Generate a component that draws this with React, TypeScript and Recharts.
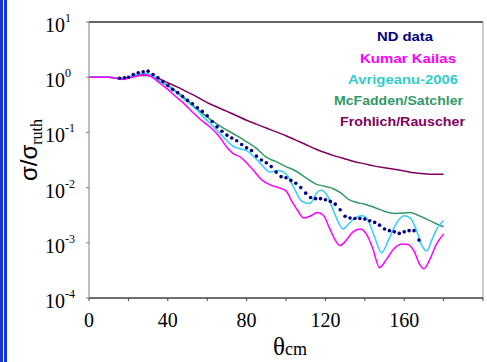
import React from "react";
import { ComposedChart, Line, Scatter, XAxis, YAxis, ReferenceLine } from "recharts";

const SERIF = '"Liberation Serif", "Times New Roman", serif';
const SANS = '"Liberation Sans", Arial, sans-serif';

const xTicks = [0, 20, 40, 60, 80, 100, 120, 140, 160, 180, 200];
const xLabelTicks = [0, 40, 80, 120, 160];
const yTicks = [0.0001, 0.001, 0.01, 0.1, 1, 10];
const yExponents = ["-4", "-3", "-2", "-1", "0", "1"];

const legendLabels = ["ND data", "Kumar Kailas", "Avrigeanu-2006", "McFadden/Satchler", "Frohlich/Rauscher"];
const legendColors = ["#000080", "#ff00ff", "#33cccc", "#339966", "#800060"];

// Frohlich/Rauscher
const frohlichAngles = [0, 10, 17, 25, 30, 35, 40, 45, 50, 55, 60, 65, 70, 75, 80, 85, 90, 95, 100, 105, 110, 115, 120, 125, 130, 135, 140, 145, 150, 155, 160, 165, 170, 175, 180];
const frohlichValues = [1, 1, 0.955, 1.072, 1.072, 0.955, 0.794, 0.661, 0.537, 0.437, 0.347, 0.288, 0.24, 0.2, 0.166, 0.141, 0.12, 0.102, 0.0871, 0.0724, 0.0603, 0.0501, 0.0427, 0.0372, 0.0331, 0.0295, 0.0269, 0.0245, 0.0229, 0.0214, 0.02, 0.0186, 0.0178, 0.0174, 0.0174];

// McFadden/Satchler
const mcfaddenAngles = [0, 10, 17, 22, 28, 32, 36, 40, 45, 51, 55, 60, 65, 70, 75, 80, 85, 90, 95, 100, 105, 110, 115, 120, 124, 128, 132, 136, 140, 145, 150, 155, 160, 163, 167, 172, 176, 180];
const mcfaddenValues = [1, 1, 0.933, 1.047, 1.148, 1.072, 0.851, 0.708, 0.525, 0.355, 0.263, 0.191, 0.141, 0.11, 0.0871, 0.0676, 0.0513, 0.0355, 0.0295, 0.024, 0.02, 0.0151, 0.0117, 0.0105, 0.00955, 0.00794, 0.00603, 0.00537, 0.00501, 0.00437, 0.00372, 0.00339, 0.00347, 0.00355, 0.00316, 0.00263, 0.00224, 0.00195];

// Avrigeanu-2006
const avrigeanuAngles = [0, 10, 17, 22, 28, 32, 36, 40, 45, 50, 55, 58, 62, 66, 70, 73, 77, 80, 84, 88, 92, 96, 100, 104, 108, 112, 116, 118, 121, 125, 129, 132, 136, 139, 142, 145, 148.5, 152, 156, 160, 163, 166, 169, 171.5, 174, 177, 180];
const avrigeanuValues = [1, 1, 0.933, 1.047, 1.175, 1.072, 0.832, 0.692, 0.501, 0.355, 0.251, 0.191, 0.141, 0.1, 0.0708, 0.0562, 0.0501, 0.0468, 0.0355, 0.0251, 0.0191, 0.0204, 0.0178, 0.01, 0.00562, 0.00513, 0.00832, 0.00891, 0.00708, 0.00316, 0.00178, 0.00224, 0.00295, 0.00309, 0.0024, 0.00126, 0.000661, 0.00112, 0.00224, 0.00309, 0.00282, 0.00178, 0.000891, 0.000708, 0.00112, 0.00191, 0.00251];

// Kumar Kailas
const kumarAngles = [0, 10, 17, 22, 28, 32, 36, 40, 44, 48, 53, 57, 61, 66, 70, 73, 77, 80, 83, 88, 92, 96, 100, 103, 106, 109, 112, 116, 119, 122, 125, 127.5, 130, 134, 137.5, 141, 144, 147.5, 151, 155, 159, 162, 165, 168, 170, 173, 176, 180];
const kumarValues = [1, 1, 0.912, 1.0, 1.122, 1.0, 0.776, 0.603, 0.447, 0.339, 0.224, 0.166, 0.129, 0.0851, 0.0537, 0.0417, 0.0355, 0.0282, 0.0214, 0.0135, 0.0112, 0.01, 0.00871, 0.00562, 0.0038, 0.00282, 0.00302, 0.00355, 0.00316, 0.00186, 0.00112, 0.000891, 0.00105, 0.00158, 0.00178, 0.00141, 0.000794, 0.000355, 0.000501, 0.000794, 0.000955, 0.000933, 0.000708, 0.000398, 0.000339, 0.000501, 0.000891, 0.00145];

// ND data
const ndAngles = [15.5, 18, 20, 22.5, 25, 27.5, 30, 32.5, 35, 37.5, 40, 42.5, 45, 47.5, 50, 52.5, 55, 57.5, 60, 62.5, 65, 67.5, 70, 72.5, 75, 77.5, 80, 82.5, 85, 87.5, 90, 92.5, 95, 97.5, 100, 102.5, 105, 107.5, 110, 112.5, 115, 117.5, 120, 122.5, 125, 127.5, 130, 132.5, 135, 137.5, 140, 142.5, 145, 147.5, 150, 152.5, 155, 157.5, 160, 162.5, 165, 167.5];
const ndValues = [0.955, 0.977, 1.0, 1.122, 1.202, 1.259, 1.288, 1.122, 0.977, 0.832, 0.708, 0.603, 0.525, 0.45, 0.38, 0.33, 0.28, 0.24, 0.2, 0.158, 0.126, 0.105, 0.0891, 0.0794, 0.0708, 0.0603, 0.0525, 0.0468, 0.0372, 0.0316, 0.0282, 0.024, 0.0191, 0.0158, 0.0151, 0.0135, 0.012, 0.01, 0.00794, 0.00661, 0.00631, 0.00631, 0.00603, 0.00562, 0.00501, 0.00398, 0.00302, 0.00282, 0.00275, 0.00275, 0.00269, 0.00251, 0.00234, 0.00209, 0.00178, 0.00166, 0.00158, 0.00148, 0.00158, 0.00166, 0.00166, 0.00112];

const zip = (a: number[], v: number[]) => a.map((x, i) => ({ x, y: v[i] }));

const frohlichData = zip(frohlichAngles, frohlichValues);
const mcfaddenData = zip(mcfaddenAngles, mcfaddenValues);
const avrigeanuData = zip(avrigeanuAngles, avrigeanuValues);
const kumarData = zip(kumarAngles, kumarValues);
const ndData = zip(ndAngles, ndValues);

const YTick = (props: any) => {
  const { y, payload } = props;
  const idx = yTicks.indexOf(payload.value);
  const exp = idx >= 0 ? yExponents[idx] : "";
  return (
    <text x={45} y={y + 10} fontFamily={SERIF} fontSize={20} fill="#000">
      10
      <tspan dy={-10} fontSize={12}>{exp}</tspan>
    </text>
  );
};

const XTick = (props: any) => {
  const { x, payload } = props;
  if (!xLabelTicks.includes(payload.value)) return null;
  return (
    <text x={x} y={327} textAnchor="middle" fontFamily={SERIF} fontSize={20} fill="#000">
      {payload.value}
    </text>
  );
};

const legendY = [41, 63, 84, 105, 126];
const legendX = [377, 360, 348, 334, 340];
const legendW = [56, 96, 110, 129, 125];

export default function App() {
  return (
    <div style={{ position: "fixed", left: 0, top: 0, width: 487, height: 362, background: "#fff" }}>
      <div style={{ position: "absolute", left: 0, top: 0, width: 3, height: 362, background: "#1436d6" }} />
      <div style={{ position: "absolute", left: 4, top: 0, width: 3, height: 362, background: "#1436d6" }} />
      <div style={{ position: "absolute", left: 0, top: 0 }}>
        <ComposedChart width={487} height={362} margin={{ top: 22, right: 4, left: 0, bottom: 0 }}>
          <XAxis
            dataKey="x"
            type="number"
            domain={[0, 200]}
            ticks={xTicks}
            interval={0}
            tick={<XTick />}
            tickSize={3}
            tickLine={{ stroke: "#404040" }}
            axisLine={{ stroke: "#404040", strokeWidth: 1.5 }}
            height={64}
            allowDataOverflow
          />
          <YAxis
            dataKey="y"
            type="number"
            scale="log"
            domain={[0.0001, 10]}
            ticks={yTicks}
            interval={0}
            tick={<YTick />}
            tickSize={3}
            tickLine={{ stroke: "#808080" }}
            axisLine={{ stroke: "#808080" }}
            width={89}
            allowDataOverflow
          />
          <ReferenceLine y={10} stroke="#333" strokeWidth={1.5} />
          <ReferenceLine x={200} stroke="#999" strokeWidth={1} />
          <Line data={frohlichData} dataKey="y" type="monotone" stroke="#800060" strokeWidth={1.5} dot={false} isAnimationActive={false} />
          <Line data={mcfaddenData} dataKey="y" type="monotone" stroke="#339966" strokeWidth={1.5} dot={false} isAnimationActive={false} />
          <Line data={avrigeanuData} dataKey="y" type="monotone" stroke="#33ccff" strokeWidth={1.5} dot={false} isAnimationActive={false} />
          <Line data={kumarData} dataKey="y" type="monotone" stroke="#ff00ff" strokeWidth={1.5} dot={false} isAnimationActive={false} />
          <Scatter
            data={ndData}
            dataKey="y"
            fill="#000080"
            isAnimationActive={false}
            shape={(p: any) => <circle cx={p.cx} cy={p.cy} r={1.8} fill="#000080" />}
          />
        </ComposedChart>
      </div>
      <svg width={487} height={362} style={{ position: "absolute", left: 0, top: 0, pointerEvents: "none" }}>
        <text transform="translate(37,150) rotate(-90)" textAnchor="middle" fill="#000">
          <tspan fontFamily={SANS} fontSize={24}>σ/σ</tspan>
          <tspan fontFamily={SERIF} fontSize={16} dy={5}>ruth</tspan>
        </text>
        <text x={290} y={355} textAnchor="middle" fill="#000" fontFamily={SERIF}>
          <tspan fontSize={25}>θ</tspan>
          <tspan fontSize={18}>cm</tspan>
        </text>
        {legendLabels.map((t, i) => (
          <text
            key={t}
            x={legendX[i]}
            y={legendY[i]}
            fontFamily={SANS}
            fontWeight="bold"
            fontSize={13}
            fill={legendColors[i]}
            textLength={legendW[i]}
            lengthAdjust="spacingAndGlyphs"
          >
            {t}
          </text>
        ))}
      </svg>
    </div>
  );
}
